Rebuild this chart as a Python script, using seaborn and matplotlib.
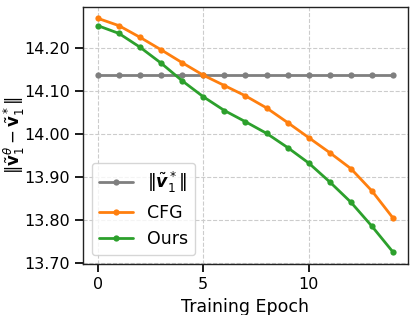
import matplotlib
matplotlib.use("Agg")
import matplotlib.pyplot as plt
import seaborn as sns
import pandas as pd

epochs = list(range(15))
ref_norm = [14.136] * 15
cfg = [14.268, 14.251, 14.224, 14.195, 14.165, 14.136, 14.112, 14.088,
       14.060, 14.026, 13.991, 13.956, 13.919, 13.867, 13.804]
ours = [14.251, 14.233, 14.201, 14.164, 14.123, 14.086, 14.054, 14.028,
        14.001, 13.968, 13.932, 13.888, 13.841, 13.785, 13.725]

ref_label = r"$\|\tilde{\boldsymbol{v}}_1^*\|$"
series_names = [ref_label, "CFG", "Ours"]
colors = ["#7f7f7f", "#ff7f0e", "#2ca02c"]

df = pd.DataFrame({
    "epoch": epochs * 3,
    "value": ref_norm + cfg + ours,
    "series": [series_names[0]] * 15 + [series_names[1]] * 15 + [series_names[2]] * 15,
})

sns.set_theme(style="ticks", rc={"text.color": "black", "axes.labelcolor": "black",
                                 "xtick.color": "black", "ytick.color": "black"})
plt.rcParams["font.family"] = ["DejaVu Sans"]

fig, ax = plt.subplots(figsize=(4.15, 3.15), dpi=100)
sns.lineplot(data=df, x="epoch", y="value", hue="series", hue_order=series_names,
             palette=colors, marker="o", markersize=4.5, markeredgewidth=0,
             linewidth=2, ax=ax)

ax.grid(True, linestyle="--", color="#cccccc", linewidth=0.8)
for s in ax.spines.values():
    s.set_color("#222222")
    s.set_linewidth(1.0)
ax.set_xticks([0, 5, 10])
ax.set_yticks([13.7, 13.8, 13.9, 14.0, 14.1, 14.2])
ax.yaxis.set_major_formatter(plt.FormatStrFormatter("%.2f"))
ax.tick_params(labelsize=11.5)
ax.set_xlabel("Training Epoch", fontsize=12.5)
ax.set_ylabel(r"$\|\tilde{\mathbf{v}}_1^\theta - \tilde{\mathbf{v}}_1^*\|$", fontsize=12, labelpad=-2)
ax.legend(loc="lower left", fontsize=12.5, title=None, frameon=True)

fig.subplots_adjust(left=0.2, right=0.983, top=0.979, bottom=0.162)
fig.savefig("out.png", dpi=100)
plt.close()
